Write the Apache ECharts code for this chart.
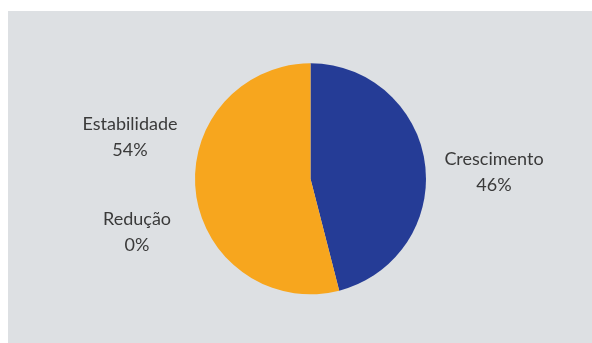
<!DOCTYPE html>
<html>
<head>
<meta charset="utf-8">
<script src="https://cdn.jsdelivr.net/npm/echarts@6/dist/echarts.min.js"></script>
<style>
  html, body { margin: 0; padding: 0; background: #ffffff; }
  #chart { position: absolute; left: 8px; top: 11px; width: 584px; height: 332px; background: #dde0e3; }
</style>
</head>
<body>
<div id="chart"></div>
<script>
// Share of respondents by expected trend (%)
const categories = ['Crescimento', 'Redução', 'Estabilidade'];
const shares = [46, 0, 54];
const sliceColors = ['#253c96', '#9aa3b5', '#f7a61e'];

// Label anchor points (container pixels) for each category
const labelSpots = [[486, 161], [129, 221], [122, 126]];

const chart = echarts.init(document.getElementById('chart'), null, { renderer: 'canvas' });

chart.setOption({
  backgroundColor: '#dde0e3',
  animation: false,
  series: [{
    type: 'pie',
    center: [302.5, 167.8],
    radius: 115.5,
    startAngle: 90,
    clockwise: true,
    silent: true,
    data: categories.map((name, i) => ({
      name,
      value: shares[i],
      itemStyle: { color: sliceColors[i] }
    })),
    label: {
      show: true,
      position: 'outside',
      formatter: p => p.name + '\n' + p.value + '%',
      fontFamily: 'Lato, "Open Sans", sans-serif',
      fontSize: 18,
      lineHeight: 26,
      color: '#3a3a3a',
      align: 'center',
      overflow: 'none'
    },
    labelLine: { show: false },
    labelLayout: params => ({
      x: labelSpots[params.dataIndex][0],
      y: labelSpots[params.dataIndex][1],
      align: 'center',
      verticalAlign: 'middle'
    })
  }]
});
</script>
</body>
</html>
